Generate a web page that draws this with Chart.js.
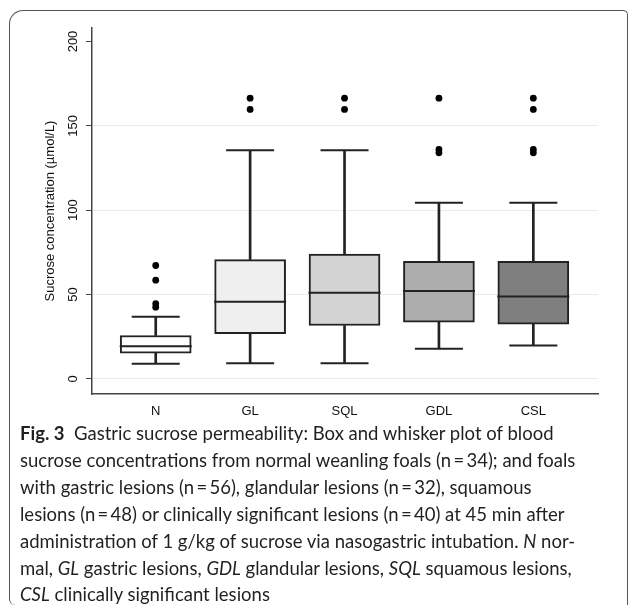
<!DOCTYPE html>
<html>
<head>
<meta charset="utf-8">
<script src="https://cdn.jsdelivr.net/npm/chart.js@4.4.1/dist/chart.umd.min.js"></script>
<style>
  html, body { margin: 0; padding: 0; background: #fff; }
  body { width: 630px; height: 615px; position: relative; overflow: hidden; }
  #frame {
    position: absolute; left: 9px; top: 10px; width: 617px; height: 594px;
    border: 1.5px solid #555; border-bottom: none;
    border-radius: 14px 5px 0 6px;
  }
  #chart { position: absolute; left: 0; top: 0; }
  #caption {
    position: absolute; left: 20px; top: 420px; width: 590px;
    font-family: Lato, "Open Sans", sans-serif; font-size: 18.5px; line-height: 26.9px;
    color: #231f20;
  }
  #caption .line { white-space: nowrap; }
  #caption b { font-weight: 700; }
</style>
</head>
<body>
<div id="frame"></div>
<canvas id="chart" width="630" height="430"></canvas>
<div id="caption">
  <div class="line"><b>Fig. 3</b>&nbsp; Gastric sucrose permeability: Box and whisker plot of blood</div>
  <div class="line">sucrose concentrations from normal weanling foals (n&#8201;=&#8201;34); and foals</div>
  <div class="line">with gastric lesions (n&#8201;=&#8201;56), glandular lesions (n&#8201;=&#8201;32), squamous</div>
  <div class="line">lesions (n&#8201;=&#8201;48) or clinically significant lesions (n&#8201;=&#8201;40) at 45 min after</div>
  <div class="line">administration of 1 g/kg of sucrose via nasogastric intubation. <i>N</i> nor-</div>
  <div class="line">mal, <i>GL</i> gastric lesions, <i>GDL</i> glandular lesions, <i>SQL</i> squamous lesions,</div>
  <div class="line last"><i>CSL</i> clinically significant lesions</div>
</div>
<script>
// values (µmol/L)
const categories = ['N', 'GL', 'SQL', 'GDL', 'CSL'];
const whiskerLow = [8.9, 9.3, 9.3, 17.8, 19.7];
const q1 = [15.2, 26.7, 31.6, 33.6, 32.4];
const median = [19.3, 45.7, 51.0, 52.0, 48.8];
const q3 = [25.7, 70.7, 73.9, 69.6, 69.6];
const whiskerHigh = [36.8, 135.5, 135.5, 104.4, 104.4];
const outliers = [
    [67.2, 58.5, 44.5, 42.5],
    [166.4, 159.7],
    [166.4, 159.7],
    [166.4, 136, 134],
    [166.4, 159.7, 136, 134]
];
const yTicks = [0, 50, 100, 150, 200];

const boxColors = ['#ffffff', '#efefef', '#d3d3d3', '#adadad', '#7f7f7f'];
const ink = '#222';

const stems = [];
categories.forEach((c, i) => {
    stems.push({ x: i, y: [whiskerLow[i], q1[i]] });
    stems.push({ x: i, y: [q3[i], whiskerHigh[i]] });
});
const caps = [];
categories.forEach((c, i) => {
    caps.push({ x: i, y: whiskerLow[i] });
    caps.push({ x: i, y: whiskerHigh[i] });
});
const outlierPoints = [];
outliers.forEach((list, i) => list.forEach(v => outlierPoints.push({ x: i, y: v })));

const ctx = document.getElementById('chart').getContext('2d');
new Chart(ctx, {
    type: 'bar',
    data: {
        datasets: [
            {
                label: 'stems',
                data: stems,
                backgroundColor: ink,
                borderWidth: 0,
                barThickness: 2,
                grouped: false,
                order: 4
            },
            {
                label: 'boxes',
                data: categories.map((c, i) => ({ x: i, y: [q1[i], q3[i]] })),
                backgroundColor: boxColors,
                borderColor: ink,
                borderWidth: 2,
                borderSkipped: false,
                barThickness: 71,
                grouped: false,
                order: 3
            },
            {
                type: 'scatter',
                label: 'median',
                data: categories.map((c, i) => ({ x: i, y: median[i] })),
                pointStyle: 'line',
                pointRadius: 36,
                pointHoverRadius: 36,
                borderColor: ink,
                borderWidth: 2,
                order: 2
            },
            {
                type: 'scatter',
                label: 'caps',
                data: caps,
                pointStyle: 'line',
                pointRadius: 24,
                pointHoverRadius: 24,
                borderColor: ink,
                borderWidth: 2,
                order: 2
            },
            {
                type: 'scatter',
                label: 'outliers',
                data: outlierPoints,
                pointStyle: 'circle',
                pointRadius: 3.4,
                backgroundColor: '#000',
                borderColor: '#000',
                borderWidth: 0,
                order: 1
            }
        ]
    },
    options: {
        responsive: false,
        animation: false,
        events: [],
        layout: { autoPadding: false, padding: { left: 36, right: 32, top: 28, bottom: 0 } },
        plugins: { legend: { display: false }, tooltip: { enabled: false } },
        scales: {
            x: {
                type: 'linear',
                offset: false,
                min: -0.675,
                max: 4.685,
                afterBuildTicks: (scale) => { scale.ticks = categories.map((c, i) => ({ value: i })); },
                afterFit: (scale) => { scale.height = 36; },
                grid: { display: false, drawTicks: false },
                border: { display: true, color: '#444', width: 1.5 },
                ticks: {
                    padding: 10,
                    color: '#111',
                    font: { family: 'Liberation Sans', size: 13 },
                    callback: (v) => categories[v]
                }
            },
            y: {
                type: 'linear',
                min: -9,
                max: 208,
                afterBuildTicks: (scale) => { scale.ticks = yTicks.map(v => ({ value: v })); },
                afterFit: (scale) => { scale.width = 56; },
                grid: {
                    color: (c) => (c.tick && c.tick.value === 200) ? 'rgba(0,0,0,0)' : '#ebebeb',
                    tickColor: '#444',
                    tickLength: 6,
                    lineWidth: 1
                },
                border: { display: true, color: '#444', width: 1.5 },
                ticks: {
                    minRotation: 90,
                    maxRotation: 90,
                    crossAlign: 'center',
                    padding: 1.5,
                    color: '#111',
                    font: { family: 'Liberation Sans', size: 13 }
                },
                title: {
                    display: true,
                    text: 'Sucrose concentration (µmol/L)',
                    color: '#111',
                    font: { family: 'Liberation Sans', size: 13 },
                    padding: { top: 7, bottom: 0 }
                }
            }
        }
    }
});

// justify caption lines to the column width
document.querySelectorAll('#caption .line').forEach(line => {
    if (line.classList.contains('last')) return;
    const target = 590;
    const spaces = (line.textContent.match(/ /g) || []).length;
    const w = line.scrollWidth;
    if (spaces > 0) line.style.wordSpacing = ((target - w) / spaces) + 'px';
});
</script>
</body>
</html>
